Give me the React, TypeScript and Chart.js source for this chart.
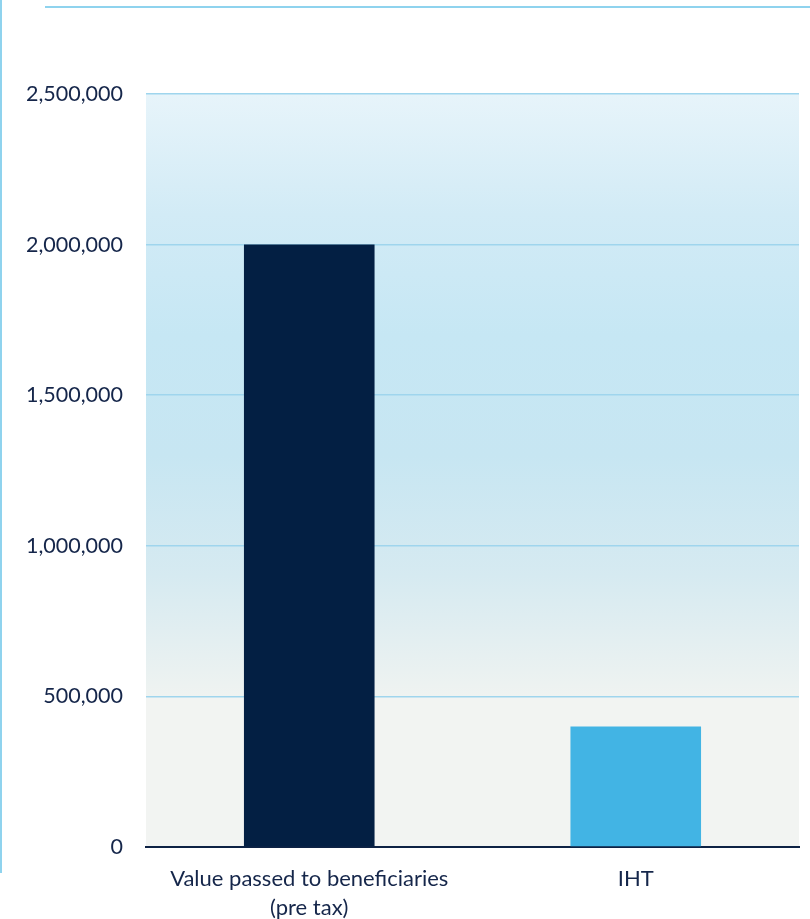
import React, { useEffect, useRef } from "react";
import { Chart, registerables } from "chart.js";

Chart.register(...registerables);

const categories: (string | string[])[] = [["Value passed to beneficiaries", "(pre tax)"], "IHT"];
const values: number[] = [2000000, 400000];
const barColors: string[] = ["#031f43", "#42b4e4"];
const yTicks: number[] = [0, 500000, 1000000, 1500000, 2000000, 2500000];

const FONT = "Lato, 'Open Sans', sans-serif";
const TEXT = "#15264a";

const bgPlugin = {
  id: "bgGradient",
  beforeDraw(chart: any) {
    const { ctx, chartArea } = chart;
    const y = chart.scales.y;
    if (!chartArea) return;
    const yTop = y.getPixelForValue(2500000);
    const y500 = y.getPixelForValue(500000);
    ctx.save();
    const g = ctx.createLinearGradient(0, yTop, 0, y500);
    g.addColorStop(0, "#e7f4fa");
    g.addColorStop(0.2, "#d2ebf6");
    g.addColorStop(0.4, "#c6e7f4");
    g.addColorStop(0.6, "#c7e6f2");
    g.addColorStop(0.8, "#d6eaf1");
    g.addColorStop(1, "#eff3f1");
    ctx.fillStyle = g;
    ctx.fillRect(chartArea.left, chartArea.top, chartArea.right - chartArea.left, y500 - chartArea.top);
    ctx.fillStyle = "#f2f4f2";
    ctx.fillRect(chartArea.left, y500, chartArea.right - chartArea.left, chartArea.bottom - y500);
    ctx.restore();
  },
};

export default function App() {
  const ref = useRef<HTMLCanvasElement | null>(null);
  useEffect(() => {
    if (!ref.current) return;
    const chart = new Chart(ref.current, {
      type: "bar",
      data: {
        labels: categories,
        datasets: [
          {
            data: values,
            backgroundColor: barColors,
            categoryPercentage: 1,
            barPercentage: 0.4,
          },
        ],
      },
      options: {
        animation: false,
        responsive: false,
        layout: { padding: { left: 0, right: 11, top: 94, bottom: 0 } },
        plugins: { legend: { display: false }, tooltip: { enabled: false } },
        scales: {
          x: {
            grid: { display: false, drawTicks: false },
            border: { display: true, color: "#0d2244", width: 2 },
            ticks: {
              color: TEXT,
              font: { family: FONT, size: 22, lineHeight: 1.3 },
              padding: 18,
              maxRotation: 0,
            },
            afterFit(scale: any) {
              scale.height = 72;
            },
          },
          y: {
            min: 0,
            max: 2500000,
            afterBuildTicks(scale: any) {
              scale.ticks = yTicks.map((v) => ({ value: v }));
            },
            grid: {
              color: (c: any) => (c.tick && c.tick.value === 0 ? "rgba(0,0,0,0)" : "#9fd5ed"),
              lineWidth: 1.5,
              drawTicks: false,
            },
            border: { display: false },
            ticks: {
              color: TEXT,
              font: { family: FONT, size: 21.5 },
              padding: 23,
              callback: (v: any) => Number(v).toLocaleString("en-US"),
            },
            afterFit(scale: any) {
              scale.width = 146;
            },
          },
        },
      },
      plugins: [bgPlugin],
    });
    return () => chart.destroy();
  }, []);

  return (
    <div style={{ position: "fixed", left: 0, top: 0, width: 810, height: 919, background: "#fff" }}>
      <div style={{ position: "absolute", left: 0, top: 0, width: 2, height: 873, background: "#8fd3ee" }} />
      <div style={{ position: "absolute", left: 45, top: 6, width: 765, height: 2, background: "#8fd3ee" }} />
      <canvas ref={ref} width={810} height={919} style={{ position: "absolute", left: 0, top: 0 }} />
    </div>
  );
}
